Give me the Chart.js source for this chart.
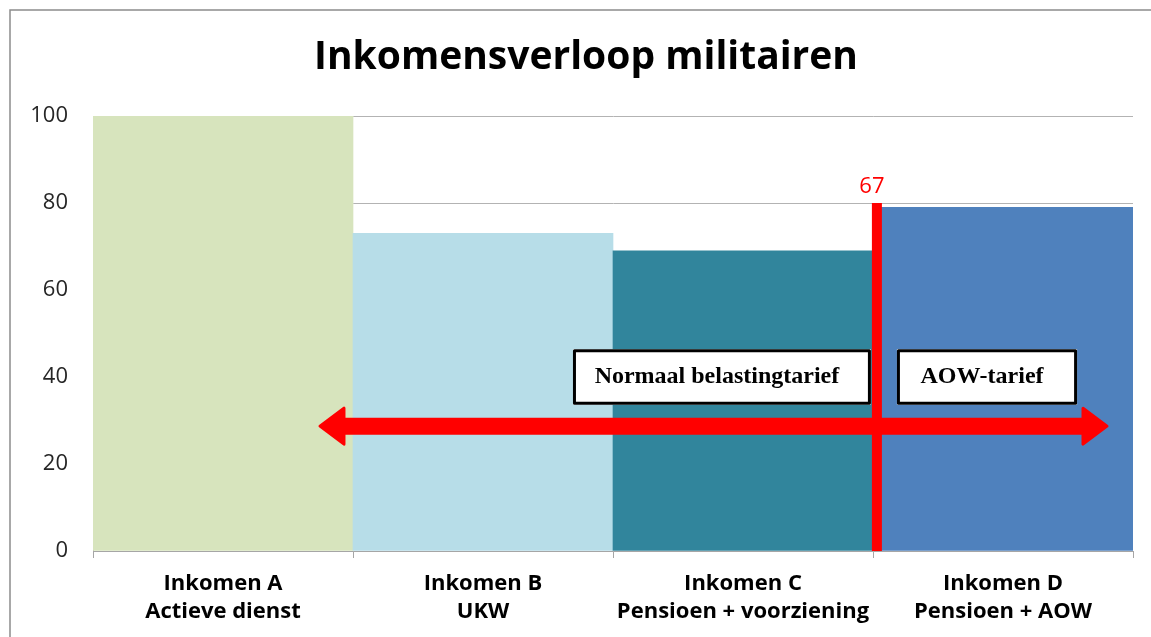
<!DOCTYPE html>
<html>
<head>
<meta charset="utf-8">
<script src="https://cdn.jsdelivr.net/npm/chart.js@4.4.1/dist/chart.umd.min.js"></script>
<style>
  html, body { margin: 0; padding: 0; background: #fff; }
  #wrap { position: relative; width: 1151px; height: 637px; }
</style>
</head>
<body>
<div id="wrap"><canvas id="myChart" width="1151" height="637"></canvas></div>
<script>
// categories and values
const categories = [
  ['Inkomen A', 'Actieve dienst'],
  ['Inkomen B', 'UKW'],
  ['Inkomen C', 'Pensioen + voorziening'],
  ['Inkomen D', 'Pensioen + AOW']
];
const incomeValues = [100, 73, 69, 79];
const barColors = ['#d7e4bd', '#b7dde8', '#31859c', '#4f81bd'];
const yMin = 0, yMax = 100, yStep = 20;
const chartTitle = 'Inkomensverloop militairen';

// annotations, in category index / value units
const ageLabel = '67';
const agePos = 2.515;
const ageTop = 80;
const arrowFrom = 0.373, arrowTo = 3.4, arrowY = 28.7;
const rateBoxes = [
  {text: 'Normaal belastingtarief', from: 1.346, to: 2.492, top: 46.4, bottom: 33.6},
  {text: 'AOW-tarief', from: 2.592, to: 3.285, top: 46.4, bottom: 33.6}
];

const annotations = {
  id: 'annotations',
  beforeDraw(chart) {
    const c = chart.ctx;
    c.save();
    c.fillStyle = '#fff';
    c.fillRect(0, 0, chart.width, chart.height);
    c.strokeStyle = '#8c8c8c';
    c.lineWidth = 1.5;
    c.strokeRect(10, 10, 1300, 800);
    // title, centred on the frame rather than the plot
    c.fillStyle = '#000';
    c.font = 'bold 39px "Open Sans"';
    c.textAlign = 'center';
    c.textBaseline = 'middle';
    c.fillText(chartTitle, 586, 58);
    c.restore();
  },
  afterDatasetsDraw(chart) {
    const c = chart.ctx;
    const xs = chart.scales.x, ys = chart.scales.y;
    const step = xs.getPixelForValue(1) - xs.getPixelForValue(0);
    const xAt = v => xs.getPixelForValue(0) + v * step;

    c.save();
    // vertical age line
    const lx = xAt(agePos);
    c.fillStyle = '#ff0000';
    c.fillRect(lx - 5, ys.getPixelForValue(ageTop), 10, ys.getPixelForValue(0) - ys.getPixelForValue(ageTop));
    c.font = '22px "Open Sans"';
    c.textAlign = 'center';
    c.textBaseline = 'alphabetic';
    c.fillText(ageLabel, lx - 5, ys.getPixelForValue(ageTop) - 10);

    // double arrow
    const ay = ys.getPixelForValue(arrowY);
    const x1 = xAt(arrowFrom), x2 = xAt(arrowTo);
    const head = 24, hh = 18, sh = 7;
    c.beginPath();
    c.moveTo(x1, ay);
    c.lineTo(x1 + head, ay - hh);
    c.lineTo(x1 + head, ay - sh);
    c.lineTo(x2 - head, ay - sh);
    c.lineTo(x2 - head, ay - hh);
    c.lineTo(x2, ay);
    c.lineTo(x2 - head, ay + hh);
    c.lineTo(x2 - head, ay + sh);
    c.lineTo(x1 + head, ay + sh);
    c.lineTo(x1 + head, ay + hh);
    c.closePath();
    c.lineJoin = 'round';
    c.lineWidth = 3;
    c.strokeStyle = '#ff0000';
    c.fill();
    c.stroke();

    // boxes
    rateBoxes.forEach(b => {
      const bx1 = xAt(b.from), bx2 = xAt(b.to);
      const by1 = ys.getPixelForValue(b.top), by2 = ys.getPixelForValue(b.bottom);
      c.fillStyle = '#fff';
      c.fillRect(bx1, by1, bx2 - bx1, by2 - by1);
      c.lineWidth = 3;
      c.strokeStyle = '#000';
      c.strokeRect(bx1 + 1.5, by1 + 1.5, bx2 - bx1 - 3, by2 - by1 - 3);
      c.fillStyle = '#000';
      c.font = 'bold 24px "Liberation Serif"';
      c.textAlign = 'center';
      c.textBaseline = 'middle';
      c.fillText(b.text, (bx1 + bx2) / 2 - 5, (by1 + by2) / 2);
    });
    c.restore();
  }
};

const ctx = document.getElementById('myChart');

new Chart(ctx, {
  type: 'bar',
  data: {
    labels: categories,
    datasets: [{
      data: incomeValues,
      backgroundColor: barColors,
      borderWidth: 0,
      barPercentage: 1,
      categoryPercentage: 1
    }]
  },
  options: {
    responsive: false,
    animation: false,
    layout: { padding: { top: 116, right: 18, bottom: 0, left: 0 } },
    scales: {
      x: {
        grid: { drawOnChartArea: false, drawTicks: true, tickLength: 7, color: '#a6a6a6' },
        border: { color: '#a6a6a6' },
        ticks: {
          color: '#000',
          font: { family: 'Open Sans', size: 22, weight: 'bold', lineHeight: 1.27 },
          padding: 12,
          maxRotation: 0
        },
        afterFit(scale) { scale.height = 86; }
      },
      y: {
        min: yMin,
        max: yMax,
        grid: { color: '#b3b3b3', drawTicks: false },
        border: { color: '#a6a6a6' },
        ticks: {
          stepSize: yStep,
          color: '#262626',
          font: { family: 'Open Sans', size: 22 },
          padding: 25
        },
        afterFit(scale) { scale.width = 93; }
      }
    },
    plugins: {
      legend: { display: false },
      tooltip: { enabled: false },
      title: { display: false }
    }
  },
  plugins: [annotations]
});
</script>
</body>
</html>
